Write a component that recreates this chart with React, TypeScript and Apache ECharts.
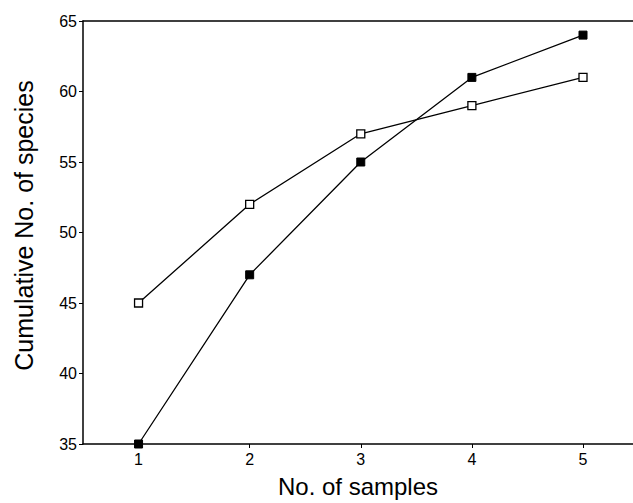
import React, { useEffect, useRef } from "react";
import * as echarts from "echarts";

const samples = [1, 2, 3, 4, 5];
const openSeries = [45, 52, 57, 59, 61];
const filledSeries = [35, 47, 55, 61, 64];
const yTicks = [35, 40, 45, 50, 55, 60, 65];

const FONT = "Liberation Sans, Arial, sans-serif";

export default function App() {
  const ref = useRef<HTMLDivElement>(null);
  useEffect(() => {
    if (!ref.current) return;
    const chart = echarts.init(ref.current, null, { renderer: "svg" });
    const toPts = (vals: number[]) => samples.map((s, i) => [s, vals[i]]);
    chart.setOption({
      animation: false,
      backgroundColor: "#fff",
      grid: { left: 83, top: 21, right: 0, bottom: 56, containLabel: false },
      xAxis: [
        {
          type: "value",
          min: 0.5,
          max: 5.45,
          interval: 1,
          position: "bottom",
          name: "No. of samples",
          nameLocation: "middle",
          nameGap: 30,
          nameTextStyle: { fontSize: 24, color: "#000", fontFamily: FONT },
          axisLine: { lineStyle: { color: "#000", width: 1.5 } },
          axisTick: { show: true, length: 4, lineStyle: { color: "#000" }, customValues: samples },
          axisLabel: {
            color: "#000",
            fontSize: 16,
            fontFamily: FONT,
            margin: 7,
            customValues: samples,
          },
          splitLine: { show: false },
        },
        {
          type: "value",
          min: 0.5,
          max: 5.45,
          position: "top",
          axisLine: { show: true, lineStyle: { color: "#000", width: 1.5 } },
          axisTick: { show: false },
          axisLabel: { show: false },
          splitLine: { show: false },
        },
      ],
      yAxis: {
        type: "value",
        min: 35,
        max: 65,
        interval: 5,
        name: "Cumulative No. of species",
        nameLocation: "middle",
        nameGap: 47,
        nameTextStyle: { fontSize: 25, color: "#000", fontFamily: FONT, padding: [0, 0, 0, 14] },
        axisLine: { show: true, lineStyle: { color: "#000", width: 1.5 } },
        axisTick: { show: true, length: 4, lineStyle: { color: "#000" } },
        axisLabel: {
          color: "#000",
          fontSize: 16,
          fontFamily: FONT,
          margin: 6,
          customValues: yTicks,
        },
        splitLine: { show: false },
      },
      series: [
        {
          type: "line",
          data: toPts(openSeries),
          symbol: "rect",
          symbolSize: 8,
          itemStyle: { color: "#fff", borderColor: "#000", borderWidth: 1.3 },
          lineStyle: { color: "#000", width: 1.3 },
          z: 3,
        },
        {
          type: "line",
          data: toPts(filledSeries),
          symbol: "rect",
          symbolSize: 8,
          itemStyle: { color: "#000", borderColor: "#000", borderWidth: 1 },
          lineStyle: { color: "#000", width: 1.3 },
          z: 4,
        },
      ],
    });
    return () => chart.dispose();
  }, []);
  return (
    <div
      ref={ref}
      style={{ position: "fixed", left: 0, top: 0, width: 633, height: 503, background: "#fff" }}
    />
  );
}
